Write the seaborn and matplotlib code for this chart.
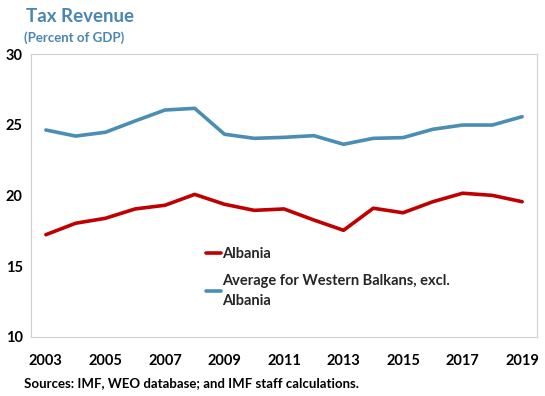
import matplotlib
matplotlib.use("Agg")
import matplotlib.pyplot as plt
import seaborn as sns
import pandas as pd
import numpy as np

years = list(range(2003, 2020))
albania = [17.23, 18.04, 18.39, 19.05, 19.31, 20.08, 19.38, 18.95, 19.05, 18.27,
           17.54, 19.10, 18.78, 19.56, 20.16, 20.01, 19.56]
wb_avg = [24.63, 24.20, 24.47, 25.27, 26.04, 26.16, 24.33, 24.04, 24.11, 24.23,
          23.62, 24.04, 24.09, 24.68, 24.98, 24.98, 25.57]
series_names = ["Albania", "Average for Western Balkans, excl.\nAlbania"]
tick_years = list(range(2003, 2020, 2))

sns.set_theme(style="white")
plt.rcParams['font.family'] = ['Lato', 'DejaVu Sans']

df = pd.DataFrame({
    "year": years * 2,
    "value": albania + wb_avg,
    "series": [series_names[0]] * len(years) + [series_names[1]] * len(years),
})

fig = plt.figure(figsize=(5.45, 3.96), dpi=100)
ax = fig.add_axes([31/545, 1 - 337/396, (537-31)/545, (337-54)/396])

sns.lineplot(data=df, x="year", y="value", hue="series",
             palette={series_names[0]: "#C00000", series_names[1]: "#4A8EB5"},
             linewidth=2.6, ax=ax, legend=True)

ax.set_xlim(2002.5, 2019.5)
ax.set_ylim(10, 30)
ax.set_yticks([10, 15, 20, 25, 30])
ax.set_xticks(tick_years)
ax.set_xticks(np.arange(2002.5, 2020, 1), minor=True)
ax.tick_params(axis="x", which="major", length=0, pad=12, labelsize=10.5)
ax.tick_params(axis="x", which="minor", length=4, direction="in", color="#BFBFBF", width=0.8)
ax.tick_params(axis="y", length=0, pad=6, labelsize=10.5)
for lbl in ax.get_xticklabels() + ax.get_yticklabels():
    lbl.set_fontweight("bold")
    lbl.set_color("black")
ax.set_xlabel("")
ax.set_ylabel("")
for s in ax.spines.values():
    s.set_color("#D0D0D0")
    s.set_linewidth(0.8)

leg = ax.legend(loc="upper left", bbox_to_anchor=(0.32, 0.365), frameon=False,
                handlelength=1.0, handletextpad=0.1, labelspacing=0.9,
                prop={"size": 10.5, "weight": "bold"})
for t in leg.get_texts():
    t.set_linespacing(1.55)

fig.text(26/545, 1 - 17/396, "Tax Revenue", fontsize=13.5, fontweight="bold",
         color="#4A86B0", va="center", ha="left")
fig.text(24/545, 1 - 38/396, "(Percent of GDP)", fontsize=9.5, fontweight="bold",
         color="#4A86B0", va="center", ha="left")
fig.text(24/545, 1 - 383/396, "Sources: IMF, WEO database; and IMF staff calculations.",
         fontsize=9.5, fontweight="bold", color="black", va="center", ha="left")

fig.savefig("out.png", dpi=100)
